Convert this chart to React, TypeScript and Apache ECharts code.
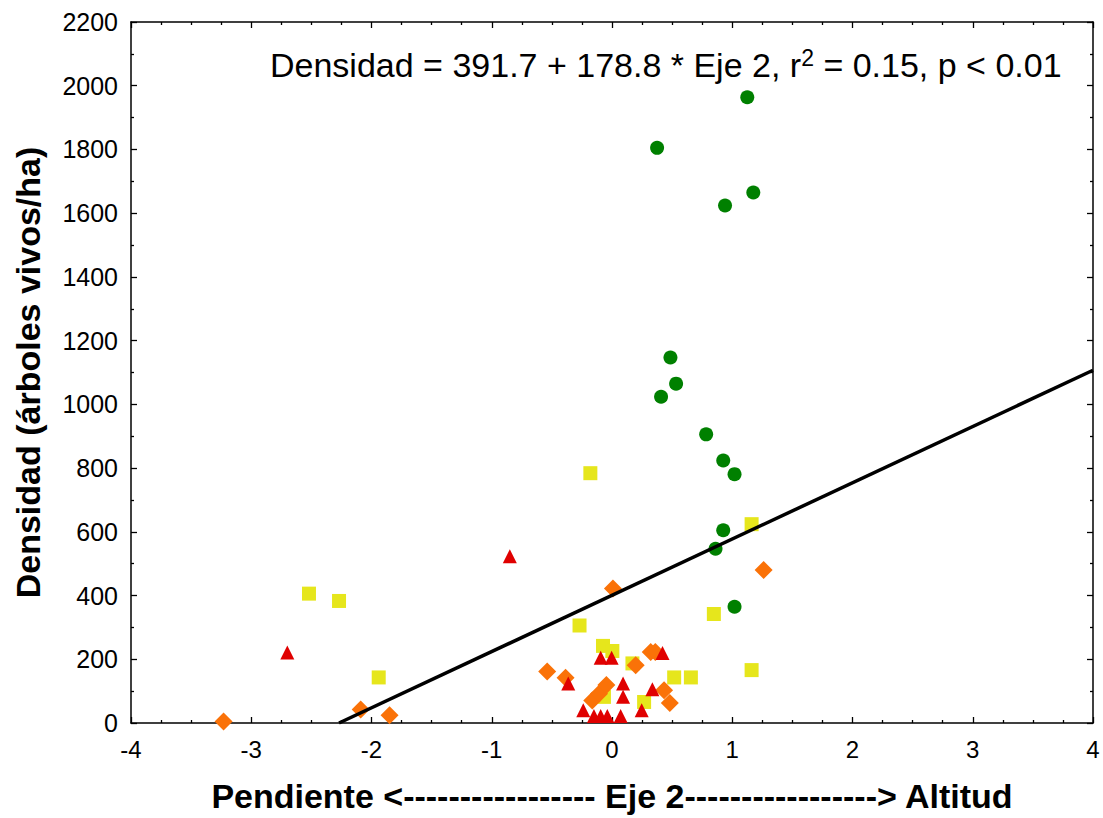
import React, { useEffect, useRef } from "react";
import * as echarts from "echarts";

// Eje 2 score, density (árboles vivos/ha)
const greenCircles: [number, number][] = [
  [1.125, 1964], [0.375, 1805], [0.94, 1624], [1.175, 1665], [0.486, 1147],
  [0.533, 1065], [0.408, 1024], [0.783, 906], [0.925, 824], [1.019, 781],
  [0.925, 605], [0.861, 547], [1.019, 365],
];
const yellowSquares: [number, number][] = [
  [-0.18, 784], [1.161, 624], [0.847, 342], [1.161, 166], [-2.52, 406],
  [-2.27, 383], [-1.94, 143], [-0.27, 306], [-0.075, 242], [0.003, 226],
  [0.17, 187], [0.517, 143], [0.656, 143], [-0.067, 82], [0.267, 66],
];
const redTriangles: [number, number][] = [
  [-2.7, 221], [-0.85, 523], [-0.094, 205], [-0.003, 205], [0.42, 220],
  [-0.364, 124], [0.092, 124], [0.092, 82], [0.336, 106], [-0.239, 40],
  [-0.15, 22], [-0.094, 22], [-0.039, 22], [0.072, 22], [0.247, 40],
];
const orangeDiamonds: [number, number][] = [
  [-3.23, 5], [-2.09, 42], [-1.85, 24], [0.008, 422], [1.261, 480],
  [-0.539, 162], [-0.386, 142], [0.197, 181], [0.322, 223], [0.36, 223],
  [0.433, 103], [0.481, 63], [-0.164, 71], [-0.108, 92], [-0.047, 119],
];
// Regression line endpoints: Densidad = 391.7 + 178.8 * Eje 2
const regressionLine: [number, number][] = [
  [-2.27, 0], [4, 1107],
];

const xTicks = { min: -4, max: 4, interval: 1 };
const yTicks = { min: 0, max: 2200, interval: 200 };

const FONT = "'Liberation Sans', Arial, sans-serif";

export default function App() {
  const ref = useRef<HTMLDivElement>(null);
  useEffect(() => {
    if (!ref.current) return;
    const chart = echarts.init(ref.current, undefined, { renderer: "svg" });
    const axisLine = { show: true, onZero: false, lineStyle: { color: "#000", width: 1.5 } };
    const xCommon = {
      type: "value" as const,
      min: xTicks.min,
      max: xTicks.max,
      interval: xTicks.interval,
      axisLine,
      axisTick: { show: true, inside: true, length: 6, lineStyle: { color: "#000", width: 1.3 } },
      minorTick: { show: true, splitNumber: 4, length: 3, lineStyle: { color: "#000", width: 1.3 } },
      splitLine: { show: false },
    };
    const yCommon = {
      type: "value" as const,
      min: yTicks.min,
      max: yTicks.max,
      interval: yTicks.interval,
      axisLine,
      axisTick: { show: true, inside: true, length: 6, lineStyle: { color: "#000", width: 1.3 } },
      minorTick: { show: true, splitNumber: 2, length: 3, lineStyle: { color: "#000", width: 1.3 } },
      splitLine: { show: false },
    };
    chart.setOption({
      animation: false,
      backgroundColor: "#fff",
      grid: { left: 131, top: 22, right: 10, bottom: 95, containLabel: false },
      xAxis: [
        {
          ...xCommon,
          position: "bottom",
          axisLabel: { color: "#000", fontSize: 24, fontFamily: FONT, margin: 14, formatter: (v: number) => String(v) },
          name: "Pendiente <----------------- Eje 2-----------------> Altitud",
          nameLocation: "middle",
          nameGap: 56,
          nameTextStyle: { color: "#000", fontSize: 34, fontWeight: "bold", fontFamily: FONT },
        },
        { ...xCommon, position: "top", axisLabel: { show: false } },
      ],
      yAxis: [
        {
          ...yCommon,
          position: "left",
          axisLabel: { color: "#000", fontSize: 25, fontFamily: FONT, margin: 13, formatter: (v: number) => String(v) },
          name: "Densidad (árboles vivos/ha)",
          nameLocation: "middle",
          nameGap: 86,
          nameTextStyle: { color: "#000", fontSize: 34, fontWeight: "bold", fontFamily: FONT },
        },
        { ...yCommon, position: "right", axisLabel: { show: false } },
      ],
      graphic: [
        {
          type: "text",
          left: 270,
          top: 46,
          style: {
            text: "Densidad = 391.7 + 178.8 * Eje 2, r{sup|2} = 0.15, p < 0.01",
            font: `34px ${FONT}`,
            fill: "#000",
            rich: {
              sup: { fontSize: 23, fontFamily: FONT, verticalAlign: "top", padding: [0, 0, 14, 0], fill: "#000" },
            },
          },
        },
      ],
      series: [
        {
          type: "scatter",
          data: yellowSquares,
          symbol: "rect",
          symbolSize: 14,
          itemStyle: { color: "#e6e61c", opacity: 1 },
          z: 2,
        },
        {
          type: "scatter",
          data: orangeDiamonds,
          symbol: "diamond",
          symbolSize: 18,
          itemStyle: { color: "#fa7208", opacity: 1 },
          z: 3,
        },
        {
          type: "scatter",
          data: redTriangles,
          symbol: "triangle",
          symbolSize: 14,
          itemStyle: { color: "#e00000", opacity: 1 },
          z: 4,
        },
        {
          type: "scatter",
          data: greenCircles,
          symbol: "circle",
          symbolSize: 14,
          itemStyle: { color: "#008000", opacity: 1 },
          z: 5,
        },
        {
          type: "line",
          data: regressionLine,
          symbol: "none",
          lineStyle: { color: "#000", width: 3.5 },
          z: 6,
        },
      ],
    });
    return () => chart.dispose();
  }, []);
  return (
    <div
      ref={ref}
      style={{ position: "absolute", left: 0, top: 0, width: 1103, height: 818 }}
    />
  );
}
